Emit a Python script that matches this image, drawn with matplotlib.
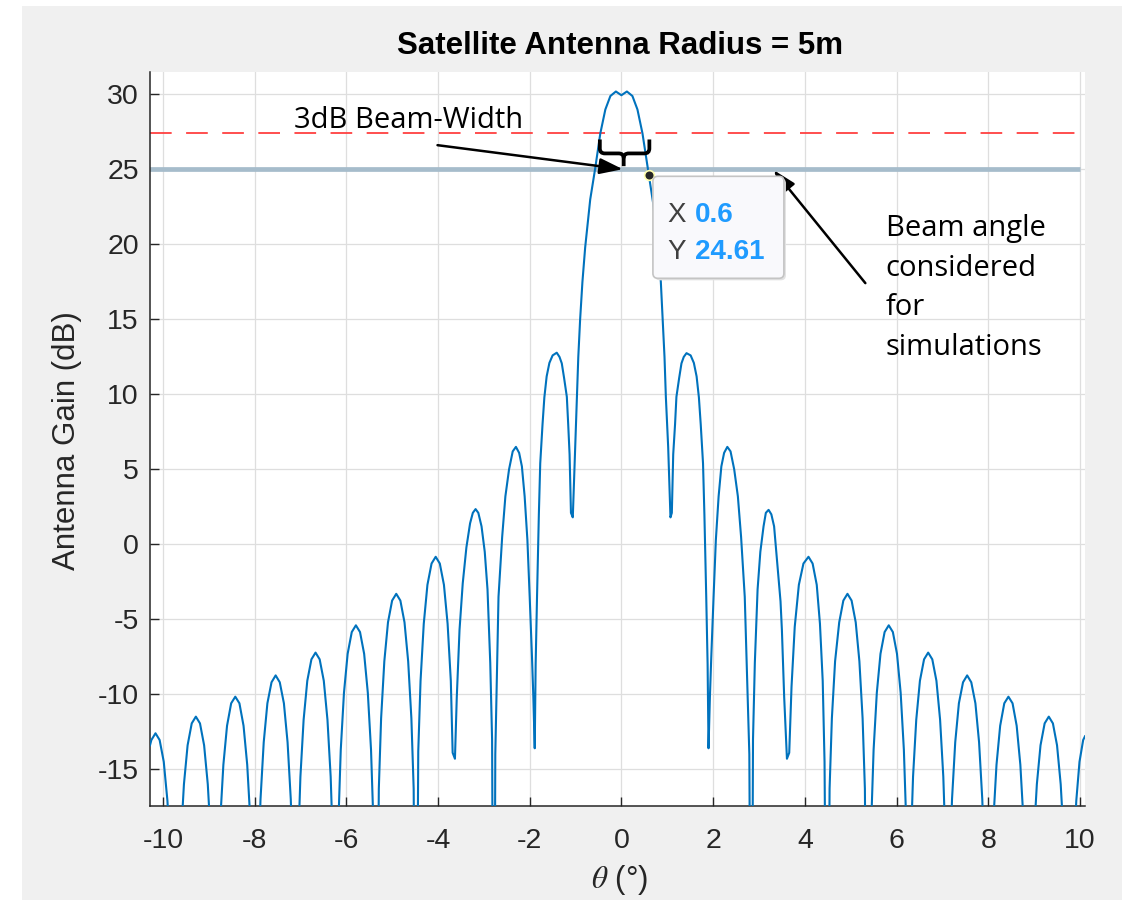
import matplotlib
matplotlib.use("Agg")
import matplotlib.pyplot as plt
from matplotlib.patches import Rectangle, FancyBboxPatch, PathPatch
from matplotlib.path import Path
from matplotlib.transforms import IdentityTransform

# antenna pattern, one lobe per line (angle in deg, gain in dB)
theta_deg = [
    -10.28, -10.25, -10.16, -10.07, -9.98, -9.90, -9.83, -9.78, -9.72,
    -9.66, -9.61, -9.54, -9.46, -9.37, -9.28, -9.19, -9.10, -9.02, -8.95, -8.90, -8.85,
    -8.80, -8.75, -8.68, -8.60, -8.51, -8.42, -8.33, -8.24, -8.16, -8.09, -8.04, -7.98,
    -7.92, -7.87, -7.80, -7.72, -7.63, -7.54, -7.45, -7.36, -7.28, -7.21, -7.16, -7.10,
    -7.05, -7.00, -6.93, -6.85, -6.76, -6.67, -6.58, -6.49, -6.41, -6.34, -6.29, -6.23,
    -6.17, -6.12, -6.05, -5.97, -5.88, -5.79, -5.70, -5.61, -5.53, -5.46, -5.41, -5.35,
    -5.29, -5.24, -5.17, -5.09, -5.00, -4.91, -4.82, -4.73, -4.65, -4.58, -4.53, -4.48,
    -4.43, -4.38, -4.31, -4.23, -4.14, -4.05, -3.96, -3.87, -3.79, -3.72, -3.68, -3.63,
    -3.59, -3.53, -3.46, -3.38, -3.30, -3.24, -3.18, -3.12, -3.05, -2.98, -2.92, -2.86, -2.82, -2.78,
    -2.75, -2.68, -2.60, -2.53, -2.45, -2.37, -2.30, -2.23, -2.17, -2.11, -2.05, -2.00, -1.95, -1.92, -1.89,
    -1.87, -1.84, -1.80, -1.77, -1.72, -1.68, -1.63, -1.57, -1.50, -1.41, -1.35, -1.30, -1.25, -1.19,
    -1.16, -1.13, -1.10, -1.06,
    -1.03, -1.01, -0.97, -0.94, -0.90, -0.85, -0.79, -0.68, -0.57, -0.46, -0.35, -0.24, -0.12, 0.0,
    0.12, 0.24, 0.35, 0.46, 0.60, 0.69, 0.80, 0.86, 0.90, 0.94, 0.97, 1.02,
    1.07, 1.10, 1.13, 1.17, 1.20, 1.26, 1.31, 1.36, 1.42, 1.51, 1.58, 1.64, 1.69, 1.73, 1.78, 1.81,
    1.85, 1.88, 1.90,
    1.93, 1.96, 2.01, 2.06, 2.12, 2.18, 2.24, 2.31, 2.38, 2.46, 2.54, 2.61, 2.69, 2.79, 2.835,
    2.87, 2.91, 2.97, 3.03, 3.10, 3.15, 3.21, 3.27, 3.33, 3.40, 3.47, 3.50, 3.55, 3.61,
    3.66, 3.71, 3.78, 3.87, 3.97, 4.08, 4.17, 4.26, 4.33, 4.39, 4.43, 4.49,
    4.54, 4.59, 4.66, 4.75, 4.84, 4.93, 5.02, 5.11, 5.19, 5.26, 5.31, 5.37,
    5.45, 5.50, 5.57, 5.65, 5.74, 5.83, 5.92, 6.01, 6.09, 6.16, 6.21, 6.27,
    6.31, 6.36, 6.43, 6.51, 6.60, 6.69, 6.78, 6.87, 6.95, 7.02, 7.07, 7.13,
    7.16, 7.21, 7.28, 7.36, 7.45, 7.54, 7.63, 7.72, 7.80, 7.87, 7.92, 7.98,
    8.06, 8.11, 8.18, 8.26, 8.35, 8.44, 8.53, 8.62, 8.70, 8.77, 8.82, 8.88,
    8.94, 8.99, 9.06, 9.14, 9.23, 9.32, 9.41, 9.50, 9.58, 9.65, 9.70, 9.76,
    9.81, 9.86, 9.92, 9.99, 10.07, 10.11,
]
gain_db = [
    -13.4, -13.05, -12.6, -13.05, -14.5, -17.1, -20.9, -25.6, -40,
    -24.5, -19.8, -16.0, -13.4, -11.94, -11.49, -11.94, -13.4, -16.0, -19.8, -24.5, -40,
    -23.2, -18.5, -14.7, -12.1, -10.6, -10.16, -10.6, -12.1, -14.7, -18.5, -23.2, -40,
    -21.7, -17.0, -13.2, -10.6, -9.2, -8.74, -9.2, -10.6, -13.2, -17.0, -21.7, -40,
    -20.2, -15.5, -11.7, -9.1, -7.67, -7.22, -7.67, -9.1, -11.7, -15.5, -20.2, -40,
    -18.4, -13.7, -9.9, -7.3, -5.85, -5.4, -5.85, -7.3, -9.9, -13.7, -18.4, -40,
    -16.3, -11.6, -7.8, -5.2, -3.75, -3.3, -3.75, -5.2, -7.8, -11.6, -16.3, -40,
    -13.8, -9.1, -5.3, -2.7, -1.28, -0.83, -1.28, -2.7, -5.3, -9.1, -13.9, -14.3,
    -10.2, -5.7, -2.6, -0.2, 1.4, 2.1, 2.35, 2.1, 1.2, -0.5, -3.0, -7.9, -13.0, -40,
    -14.0, -3.5, 0.5, 3.2, 5.0, 6.2, 6.5, 6.1, 5.2, 3.2, 0.3, -3.5, -7.5, -10.2, -13.6,
    -8.0, -3.5, 2.0, 5.4, 8.0, 9.8, 11.2, 12.1, 12.6, 12.78, 12.5, 12.07, 11.1, 9.84,
    8.0, 6.0, 2.1, 1.8,
    4.5, 6.5, 9.8, 12.5, 15.0, 17.5, 19.8, 23.0, 25.1, 27.4, 29.0, 29.9, 30.2, 29.95,
    30.2, 29.9, 29.0, 27.4, 24.61, 22.8, 19.8, 17.5, 15.0, 12.5, 9.8, 6.5,
    1.8, 2.1, 6.0, 8.0, 9.84, 11.1, 12.07, 12.5, 12.75, 12.6, 12.1, 11.2, 9.8, 8.0, 5.4, 2.0,
    -3.5, -8.0, -13.6,
    -10.2, -7.5, -3.5, 0.3, 3.2, 5.2, 6.1, 6.5, 6.2, 5.0, 3.2, 0.5, -3.5, -14.0, -40,
    -13.0, -7.9, -3.0, -0.5, 1.2, 2.1, 2.3, 2.0, 1.2, -1.27, -3.8, -5.7, -10.2, -14.3,
    -13.9, -9.5, -5.5, -2.7, -1.28, -0.83, -1.28, -2.7, -5.3, -9.1, -14.5, -40,
    -16.3, -11.6, -7.8, -5.2, -3.75, -3.3, -3.75, -5.2, -7.8, -11.6, -16.3, -40,
    -18.4, -13.7, -9.9, -7.3, -5.85, -5.4, -5.85, -7.3, -9.9, -13.7, -18.4, -40,
    -20.2, -15.5, -11.7, -9.1, -7.67, -7.22, -7.67, -9.1, -11.7, -15.5, -20.2, -40,
    -21.7, -17.0, -13.2, -10.6, -9.2, -8.74, -9.2, -10.6, -13.2, -17.0, -21.7, -40,
    -23.2, -18.5, -14.7, -12.1, -10.6, -10.16, -10.6, -12.1, -14.7, -18.5, -23.2, -40,
    -24.5, -19.8, -16.0, -13.4, -11.94, -11.49, -11.94, -13.4, -16.0, -19.8, -24.5, -40,
    -25.6, -20.9, -17.1, -14.5, -13.05, -12.8,
]

half_power_db = 27.4      # peak - 3 dB (red dashed)
beam_level_db = 25.0      # level used for simulations
beam_line_span = [-10.3, 10.0]
tip_x, tip_y = 0.6, 24.61

x_ticks = [-10, -8, -6, -4, -2, 0, 2, 4, 6, 8, 10]
y_ticks = [-15, -10, -5, 0, 5, 10, 15, 20, 25, 30]

plt.rcParams["font.family"] = ["Liberation Sans", "DejaVu Sans"]
plt.rcParams["mathtext.fontset"] = "stix"
plt.rcParams["axes.unicode_minus"] = False

fig = plt.figure(figsize=(11.27, 9.0), dpi=100, facecolor="white")
fig.patches.append(Rectangle((22 / 1127, 0), 1100 / 1127, 894 / 900,
                             transform=fig.transFigure, facecolor="#f0f0f0",
                             edgecolor="none", zorder=-10))
ax = fig.add_axes([150 / 1127, 94 / 900, 935 / 1127, 734 / 900])
ax.set_xlim(-10.28, 10.11)
ax.set_ylim(-17.45, 31.5)

ax.plot(theta_deg, gain_db, color="#0072BD", lw=1.5, zorder=3)
ax.hlines(beam_level_db, beam_line_span[0], beam_line_span[1], color="#a6bccb", lw=3.4, zorder=2)
ax.axhline(half_power_db, color="#ff4040", lw=1.3, dashes=(12, 8), zorder=2)

# axes styling (MATLAB look: box off, ticks in)
for s in ["top", "right"]:
    ax.spines[s].set_visible(False)
for s in ["left", "bottom"]:
    ax.spines[s].set_color("#262626")
    ax.spines[s].set_linewidth(1.1)
ax.set_xticks(x_ticks)
ax.set_yticks(y_ticks)
ax.tick_params(direction="in", length=6.5, width=1, colors="#262626", labelsize=20.5)
ax.tick_params(axis="y", pad=8)
ax.tick_params(axis="x", pad=16)
ax.grid(True, color="#dedede", lw=0.9)
ax.set_axisbelow(True)

ax.text(0.5027, 1.0354, "Satellite Antenna Radius = 5m", transform=ax.transAxes,
        ha="center", va="center", fontsize=22.5, fontweight="bold", color="black")
ax.text(-0.0888, 0.4973, "Antenna Gain (dB)", transform=ax.transAxes, rotation=90,
        ha="center", va="center", fontsize=22.5, color="#262626")
ax.text(0.5027, -0.1008, r"$\theta$ (°)", transform=ax.transAxes,
        ha="center", va="center", fontsize=22.5, color="#262626")

# data tip
ax.plot([tip_x], [tip_y], "o", ms=7, mfc="#262626", mec="#ffffb0", mew=1.2, zorder=7)
px, py = ax.transData.transform((tip_x, tip_y))
fig.add_artist(FancyBboxPatch((px + 6, py - 105), 131, 102,
                              boxstyle="round,pad=0,rounding_size=5",
                              transform=IdentityTransform(), fc="#e2e2e2", ec="none", zorder=5))
fig.add_artist(FancyBboxPatch((px + 4, py - 103), 131, 102,
                              boxstyle="round,pad=0,rounding_size=5",
                              transform=IdentityTransform(), fc="#f9f9fc", ec="#c4c4c4",
                              lw=1.2, zorder=6))
fig.text(px + 18, py - 47, "X", transform=IdentityTransform(), fontsize=20,
         color="#404040", va="baseline", zorder=8)
fig.text(px + 46, py - 47, f"{tip_x:g}", transform=IdentityTransform(), fontsize=20,
         color="#1f9bff", fontweight="bold", va="baseline", zorder=8)
fig.text(px + 18, py - 83.5, "Y", transform=IdentityTransform(), fontsize=20,
         color="#404040", va="baseline", zorder=8)
fig.text(px + 46, py - 83.5, f"{tip_y:g}", transform=IdentityTransform(), fontsize=20,
         color="#1f9bff", fontweight="bold", va="baseline", zorder=8)

# hand-drawn annotations
arrow = dict(arrowstyle="-|>,head_length=0.7,head_width=0.24", color="black",
             lw=1.8, mutation_scale=20, shrinkA=0, shrinkB=0)
ax.annotate("", xy=(0.03, 25.02), xytext=(-4.01, 26.62), arrowprops=arrow, zorder=9)
ax.annotate("", xy=(3.32, 24.96), xytext=(5.32, 17.42), arrowprops=arrow, zorder=9)
ax.text(-7.15, 27.75, "3dB Beam-Width", fontfamily="Open Sans", fontsize=21,
        va="baseline", color="black", zorder=9)
# va="baseline" on multi-line text anchors the last line
ax.text(5.76, 12.62, "Beam angle\nconsidered\nfor\nsimulations", fontfamily="Open Sans",
        fontsize=21, va="baseline", linespacing=1.49, color="black", zorder=9)

M, L, C = Path.MOVETO, Path.LINETO, Path.CURVE3
left = Path([(-0.47, 27.0), (-0.47, 26.4), (-0.47, 26.07), (-0.36, 26.07),
             (-0.06, 26.07), (0.05, 26.07), (0.05, 25.75), (0.05, 25.22)],
            [M, L, C, C, L, C, C, L])
right = Path([(0.61, 27.0), (0.61, 26.4), (0.61, 26.07), (0.50, 26.07),
              (0.16, 26.07), (0.05, 26.07), (0.05, 25.75)],
             [M, L, C, C, L, C, C])
for p in (left, right):
    ax.add_patch(PathPatch(p, fill=False, ec="black", lw=2.7, zorder=9))

fig.savefig("out.png", dpi=100, facecolor=fig.get_facecolor())
